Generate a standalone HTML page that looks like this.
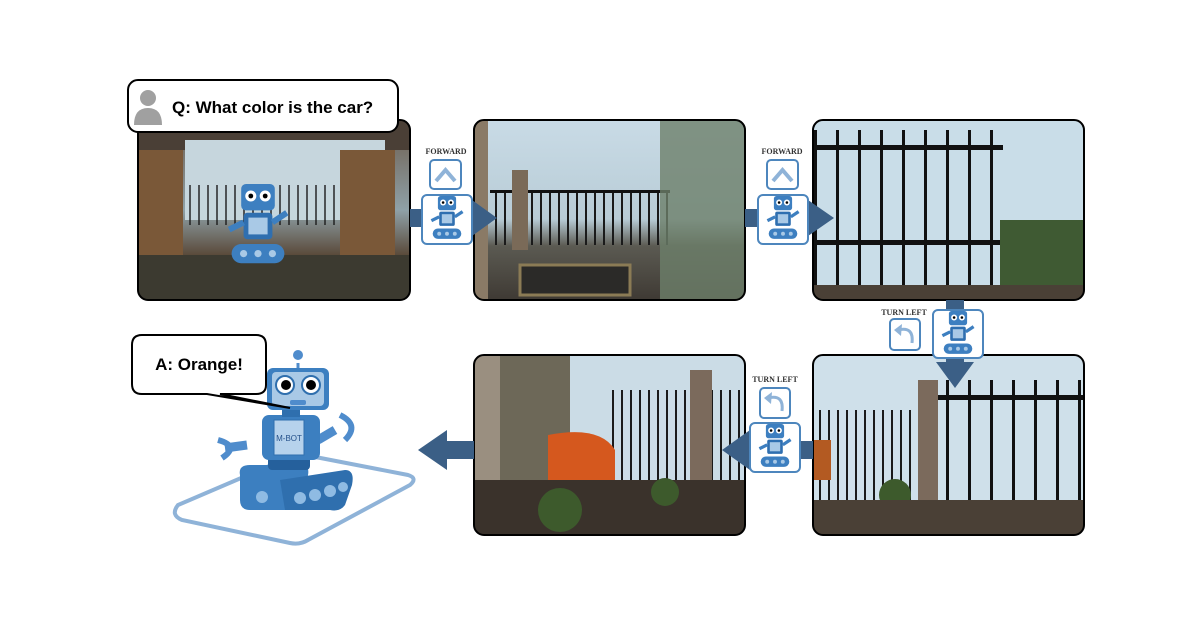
<!DOCTYPE html>
<html><head><meta charset="utf-8"><style>
html,body{margin:0;padding:0;background:#fff;}
svg{display:block;}
text{font-family:"Liberation Sans",sans-serif;}
.lbl{font-family:"Liberation Serif",serif;font-size:8px;font-weight:bold;fill:#333;}
</style></head><body>
<svg width="1200" height="630" viewBox="0 0 1200 630" xmlns="http://www.w3.org/2000/svg">
<defs>
<linearGradient id="sky" x1="0" y1="0" x2="0" y2="1">
<stop offset="0" stop-color="#c9dbe6"/><stop offset="0.55" stop-color="#b8ccd6"/><stop offset="0.7" stop-color="#5b5a52"/><stop offset="1" stop-color="#3f3a34"/></linearGradient>
<linearGradient id="room" x1="0" y1="0" x2="0" y2="1">
<stop offset="0" stop-color="#6b5a4a"/><stop offset="0.5" stop-color="#8fa1a8"/><stop offset="0.75" stop-color="#5a4a3a"/><stop offset="1" stop-color="#3a332c"/></linearGradient>
<pattern id="fence" width="9" height="200" patternUnits="userSpaceOnUse"><rect x="0" y="0" width="2" height="200" fill="#1a1a1a"/></pattern>
<pattern id="fence2" width="22" height="200" patternUnits="userSpaceOnUse"><rect x="0" y="0" width="3" height="200" fill="#111"/></pattern>
<g id="bot">
<rect x="-7" y="-20" width="14" height="11" rx="2" fill="#3d7fc0"/>
<circle cx="-3" cy="-15" r="2.3" fill="#fff"/><circle cx="3" cy="-15" r="2.3" fill="#fff"/>
<circle cx="-3" cy="-15" r="1" fill="#000"/><circle cx="3" cy="-15" r="1" fill="#000"/>
<rect x="-6" y="-8" width="12" height="11" rx="1.5" fill="#2f6fb0"/>
<rect x="-4" y="-6" width="8" height="7" fill="#a9c9e6"/>
<path d="M-6,-4 L-12,-1 M6,-4 L12,-8" stroke="#3d7fc0" stroke-width="2.5"/>
<rect x="-11" y="5" width="22" height="8" rx="4" fill="#3d7fc0"/>
<circle cx="-6" cy="9" r="1.5" fill="#a9c9e6"/><circle cx="0" cy="9" r="1.5" fill="#a9c9e6"/><circle cx="6" cy="9" r="1.5" fill="#a9c9e6"/>
</g>
</defs>

<!-- Panel 1 -->
<g>
<clipPath id="c1"><rect x="138" y="120" width="272" height="180" rx="10"/></clipPath>
<g clip-path="url(#c1)">
<rect x="138" y="120" width="272" height="180" fill="url(#room)"/>
<rect x="138" y="120" width="272" height="30" fill="#4a3f36"/>
<rect x="185" y="140" width="200" height="80" fill="#c6d6dd"/>
<rect x="185" y="185" width="200" height="40" fill="url(#fence)" opacity="0.7"/>
<rect x="138" y="150" width="45" height="150" fill="#7a5838"/>
<rect x="340" y="150" width="55" height="150" fill="#7a5838"/>
<rect x="138" y="255" width="272" height="45" fill="#3c3a30"/>
<g transform="translate(258,232) scale(2.4)"><use href="#bot"/></g>
</g>
<rect x="138" y="120" width="272" height="180" rx="10" fill="none" stroke="#000" stroke-width="2"/>
</g>

<!-- Panel 2 -->
<g>
<clipPath id="c2"><rect x="474" y="120" width="271" height="180" rx="10"/></clipPath>
<g clip-path="url(#c2)">
<rect x="474" y="120" width="271" height="180" fill="url(#sky)"/>
<rect x="490" y="190" width="180" height="55" fill="url(#fence)"/>
<rect x="490" y="190" width="180" height="3" fill="#111"/>
<rect x="512" y="170" width="16" height="80" fill="#7a6a58"/>
<rect x="660" y="120" width="85" height="180" fill="#6d7f6a" opacity="0.8"/>
<rect x="474" y="120" width="14" height="180" fill="#8a7a66"/>
<rect x="520" y="265" width="110" height="30" fill="#2b2a28" stroke="#8b7b55" stroke-width="3"/>
</g>
<rect x="474" y="120" width="271" height="180" rx="10" fill="none" stroke="#000" stroke-width="2"/>
</g>

<!-- Panel 3 -->
<g>
<clipPath id="c3"><rect x="813" y="120" width="271" height="180" rx="10"/></clipPath>
<g clip-path="url(#c3)">
<rect x="813" y="120" width="271" height="180" fill="#c9dde8"/>
<rect x="813" y="130" width="190" height="160" fill="url(#fence2)"/>
<rect x="813" y="145" width="190" height="5" fill="#111"/>
<rect x="813" y="240" width="190" height="5" fill="#111"/>
<rect x="1000" y="220" width="84" height="80" fill="#3f5a33"/>
<rect x="813" y="285" width="271" height="15" fill="#4a4036"/>
</g>
<rect x="813" y="120" width="271" height="180" rx="10" fill="none" stroke="#000" stroke-width="2"/>
</g>

<!-- Panel 4 (bottom right) -->
<g>
<clipPath id="c4"><rect x="813" y="355" width="271" height="180" rx="10"/></clipPath>
<g clip-path="url(#c4)">
<rect x="813" y="355" width="271" height="180" fill="#cfe0ea"/>
<rect x="813" y="410" width="110" height="90" fill="url(#fence)"/>
<rect x="935" y="380" width="149" height="155" fill="url(#fence2)"/>
<rect x="935" y="395" width="149" height="5" fill="#111"/>
<rect x="918" y="380" width="20" height="130" fill="#7b6a5c"/>
<rect x="813" y="440" width="18" height="40" fill="#b35a22"/>
<circle cx="895" cy="495" r="16" fill="#3d5a2c"/>
<rect x="813" y="500" width="271" height="35" fill="#4a4036"/>
</g>
<rect x="813" y="355" width="271" height="180" rx="10" fill="none" stroke="#000" stroke-width="2"/>
</g>

<!-- Panel 5 -->
<g>
<clipPath id="c5"><rect x="474" y="355" width="271" height="180" rx="10"/></clipPath>
<g clip-path="url(#c5)">
<rect x="474" y="355" width="271" height="180" fill="#cbdce6"/>
<rect x="474" y="355" width="26" height="180" fill="#9a8f80"/>
<rect x="500" y="355" width="70" height="180" fill="#6d6858"/>
<rect x="610" y="390" width="135" height="110" fill="url(#fence)"/>
<rect x="690" y="370" width="22" height="150" fill="#7b6a5c"/>
<path d="M548,435 Q600,425 615,450 L615,485 L548,485 Z" fill="#d5581e"/>
<rect x="474" y="480" width="271" height="55" fill="#3a322b"/>
<circle cx="560" cy="510" r="22" fill="#3d5a2c"/>
<circle cx="665" cy="492" r="14" fill="#3d5a2c"/>
</g>
<rect x="474" y="355" width="271" height="180" rx="10" fill="none" stroke="#000" stroke-width="2"/>
</g>

<!-- Arrows -->
<g fill="#3b5f86">
<rect x="410" y="209" width="50" height="18"/><path d="M472,200 L497,218 L472,236 Z"/>
<rect x="745" y="209" width="50" height="18"/><path d="M808,200 L834,218 L808,236 Z"/>
<rect x="946" y="300" width="18" height="65"/><path d="M936,362 L974,362 L955,388 Z"/>
<rect x="760" y="441" width="53" height="18"/><path d="M750,430 L722,450 L750,470 Z"/>
<rect x="445" y="441" width="29" height="18"/><path d="M447,430 L418,450 L447,470 Z"/>
</g>

<!-- Forward icons -->
<text class="lbl" x="446" y="154" text-anchor="middle">FORWARD</text>
<rect x="430" y="160" width="31" height="29" rx="4" fill="#fff" stroke="#4d86bd" stroke-width="2"/>
<path d="M436,181 L445.5,170 L455,181" fill="none" stroke="#8fb3d8" stroke-width="4"/>
<rect x="422" y="195" width="50" height="49" rx="5" fill="#fff" stroke="#4d86bd" stroke-width="2"/>
<g transform="translate(447,222) scale(1.3)"><use href="#bot"/></g>

<text class="lbl" x="782" y="154" text-anchor="middle">FORWARD</text>
<rect x="767" y="160" width="31" height="29" rx="4" fill="#fff" stroke="#4d86bd" stroke-width="2"/>
<path d="M773,181 L782.5,170 L792,181" fill="none" stroke="#8fb3d8" stroke-width="4"/>
<rect x="758" y="195" width="50" height="49" rx="5" fill="#fff" stroke="#4d86bd" stroke-width="2"/>
<g transform="translate(783,222) scale(1.3)"><use href="#bot"/></g>

<!-- Turn left 1 -->
<text class="lbl" x="904" y="315" text-anchor="middle">TURN LEFT</text>
<rect x="890" y="319" width="30" height="31" rx="4" fill="#fff" stroke="#4d86bd" stroke-width="2"/>
<path d="M912,343 Q914,326 898,330" fill="none" stroke="#8fb3d8" stroke-width="3"/><path d="M894,330 L902,324 L901,336 Z" fill="#8fb3d8"/>
<rect x="933" y="310" width="50" height="48" rx="5" fill="#fff" stroke="#4d86bd" stroke-width="2"/>
<g transform="translate(958,337) scale(1.3)"><use href="#bot"/></g>

<!-- Turn left 2 -->
<text class="lbl" x="775" y="382" text-anchor="middle">TURN LEFT</text>
<rect x="760" y="388" width="30" height="30" rx="4" fill="#fff" stroke="#4d86bd" stroke-width="2"/>
<path d="M782,411 Q784,394 768,398" fill="none" stroke="#8fb3d8" stroke-width="3"/><path d="M764,398 L772,392 L771,404 Z" fill="#8fb3d8"/>
<rect x="750" y="423" width="50" height="49" rx="5" fill="#fff" stroke="#4d86bd" stroke-width="2"/>
<g transform="translate(775,450) scale(1.3)"><use href="#bot"/></g>

<!-- Question bubble -->
<rect x="128" y="80" width="270" height="52" rx="10" fill="#fff" stroke="#000" stroke-width="2"/>
<circle cx="148" cy="98" r="8" fill="#a0a0a0"/>
<path d="M134,125 Q134,108 148,108 Q162,108 162,125 Z" fill="#a0a0a0"/>
<text x="172" y="113" font-size="17" font-weight="bold">Q: What color is the car?</text>

<!-- Final robot -->
<path d="M178,505 Q170,515 182,520 L290,543 Q300,545 308,540 L410,485 Q418,478 408,475 L305,455 Q295,453 288,458 Z" fill="none" stroke="#8fb3d8" stroke-width="4"/>
<g>
<path d="M240,475 Q238,465 250,465 L300,465 Q310,465 308,475 L305,500 Q303,510 292,510 L250,510 Q240,510 240,500 Z" fill="#3c7fc0"/>
<path d="M280,480 L345,470 Q355,470 352,485 L345,505 Q340,512 330,510 L285,510 Z" fill="#2f6fae"/>
<circle cx="300" cy="498" r="6" fill="#8fbbe3"/><circle cx="315" cy="495" r="6" fill="#8fbbe3"/><circle cx="330" cy="491" r="6" fill="#8fbbe3"/><circle cx="343" cy="487" r="5" fill="#8fbbe3"/>
<circle cx="262" cy="497" r="6" fill="#8fbbe3"/>
<rect x="268" y="455" width="42" height="15" rx="4" fill="#25609c"/>
<path d="M247,445 L225,448" stroke="#4f8ccc" stroke-width="9"/>
<path d="M218,440 Q240,446 222,458" fill="none" stroke="#4f8ccc" stroke-width="6"/>
<path d="M318,440 L335,430" stroke="#4f8ccc" stroke-width="9"/>
<path d="M340,415 Q360,425 345,440" fill="none" stroke="#4f8ccc" stroke-width="6"/>
<rect x="262" y="415" width="58" height="45" rx="7" fill="#3c7fc0"/>
<rect x="274" y="420" width="30" height="35" fill="#b6d2ec" stroke="#2f6fae"/>
<text x="289" y="441" font-size="8" text-anchor="middle" fill="#24508a">M-BOT</text>
<rect x="282" y="408" width="18" height="9" fill="#2f6fae"/>
<line x1="298" y1="363" x2="298" y2="370" stroke="#4f8ccc" stroke-width="3"/>
<circle cx="298" cy="355" r="5" fill="#4f8ccc"/>
<rect x="267" y="368" width="62" height="42" rx="6" fill="#3c7fc0"/>
<rect x="272" y="372" width="52" height="34" rx="4" fill="#a9c9e6"/>
<circle cx="285" cy="385" r="9" fill="#fff" stroke="#2f6fae" stroke-width="2"/><circle cx="311" cy="385" r="9" fill="#fff" stroke="#2f6fae" stroke-width="2"/>
<circle cx="286" cy="385" r="5" fill="#000"/><circle cx="311" cy="385" r="5" fill="#000"/>
<rect x="290" y="400" width="16" height="5" rx="2" fill="#4f8ccc"/>
</g>

<!-- Answer bubble -->
<path d="M142,335 L256,335 Q266,335 266,345 L266,385 Q266,394 256,394 L220,394 L290,408 L207,394 L142,394 Q132,394 132,384 L132,345 Q132,335 142,335 Z" fill="#fff" stroke="#000" stroke-width="2"/>
<text x="199" y="370" font-size="17" font-weight="bold" text-anchor="middle">A: Orange!</text>
</svg>
</body></html>
